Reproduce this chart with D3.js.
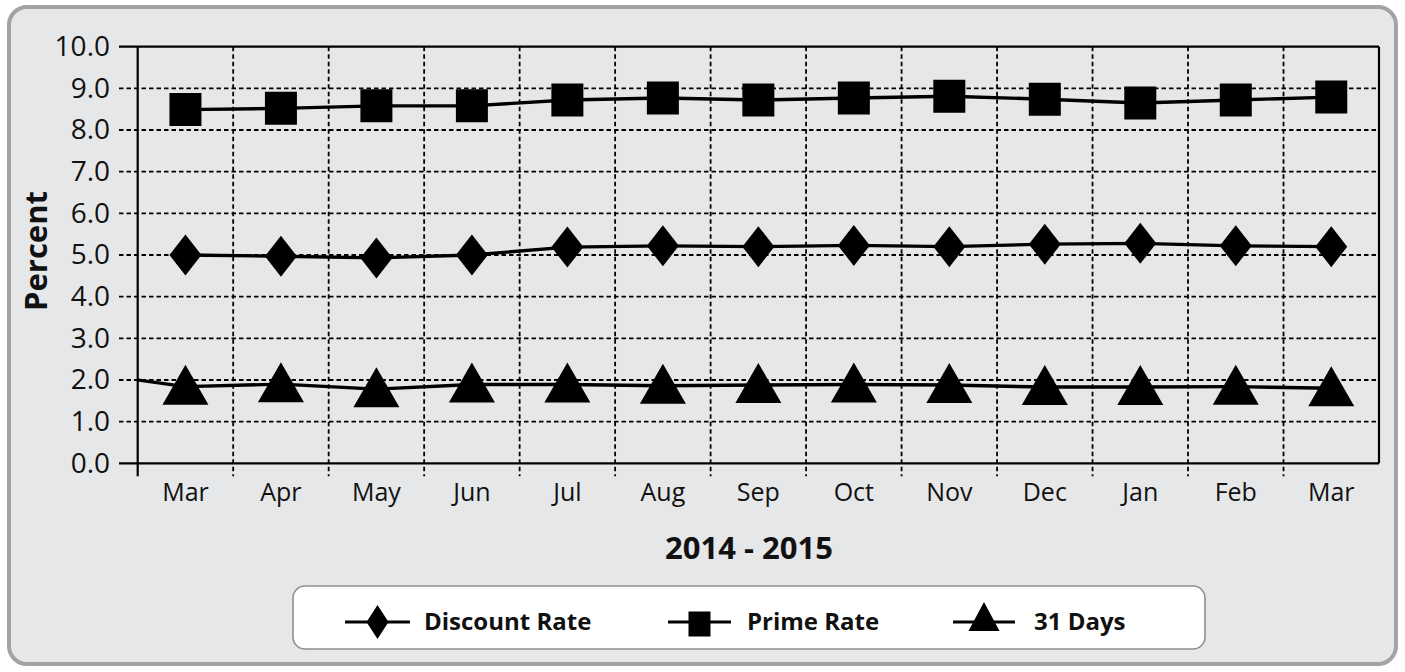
<!DOCTYPE html>
<html>
<head>
<meta charset="utf-8">
<script src="https://cdn.jsdelivr.net/npm/d3@7"></script>
<style>
  html, body { margin: 0; padding: 0; background: #ffffff; }
  svg { display: block; font-family: "Open Sans", "Noto Sans", sans-serif; }
</style>
</head>
<body>
<svg id="chart" width="1405" height="672"></svg>
<script>
// ---- data ----
const months = ["Mar","Apr","May","Jun","Jul","Aug","Sep","Oct","Nov","Dec","Jan","Feb","Mar"];
const discountRate = [5.00, 4.97, 4.93, 5.00, 5.19, 5.22, 5.20, 5.23, 5.20, 5.26, 5.28, 5.22, 5.20];
const primeRate    = [8.49, 8.52, 8.58, 8.58, 8.72, 8.77, 8.72, 8.77, 8.81, 8.74, 8.65, 8.72, 8.79];
const days31       = [1.84, 1.90, 1.78, 1.89, 1.89, 1.86, 1.88, 1.89, 1.88, 1.83, 1.83, 1.84, 1.80];
const days31Prev   = 2.16;   // previous month, only partly visible (clipped)
const yTicks = [0,1,2,3,4,5,6,7,8,9,10];
const seriesNames = ["Discount Rate","Prime Rate","31 Days"];
const xTitle = "2014 - 2015";
const yTitle = "Percent";

(function () {
// ---- layout ----
const pL = 137.7, pR = 1379, pT = 46.7, pB = 463.3;
const svg = d3.select("#chart");

// panel
svg.append("rect")
  .attr("x", 9).attr("y", 7).attr("width", 1387).attr("height", 657)
  .attr("rx", 18).attr("ry", 18)
  .attr("fill", "#e6e7e9").attr("stroke", "#a2a3a5").attr("stroke-width", 4);

const x = d3.scaleBand().domain(d3.range(months.length)).range([pL, pR]).padding(0);
const bw = x.bandwidth();
const cx = i => pL + bw * i + bw / 2;
const y = d3.scaleLinear().domain([0, 10]).range([pB, pT]);

// horizontal grid
const gridG = svg.append("g");
yTicks.forEach(t => {
  const solid = (t === 0 || t === 10);
  gridG.append("line")
    .attr("x1", 119).attr("x2", pR)
    .attr("y1", y(t)).attr("y2", y(t))
    .attr("stroke", "#000").attr("stroke-width", solid ? 2.2 : 1.8)
    .attr("stroke-dasharray", solid ? null : "4.5,3");
});
// vertical grid at band boundaries
d3.range(1, months.length).forEach(i => {
  gridG.append("line")
    .attr("x1", x(i)).attr("x2", x(i))
    .attr("y1", pT).attr("y2", pB + 13)
    .attr("stroke", "#000").attr("stroke-width", 1.8)
    .attr("stroke-dasharray", "4.5,3");
});
// left axis line & right border
gridG.append("line").attr("x1", pL).attr("x2", pL).attr("y1", pT).attr("y2", pB + 13)
  .attr("stroke", "#000").attr("stroke-width", 2.2);
gridG.append("line").attr("x1", pR).attr("x2", pR).attr("y1", pT).attr("y2", pB)
  .attr("stroke", "#000").attr("stroke-width", 2.2);

// y axis labels
const yAxis = d3.axisLeft(y).tickValues(yTicks).tickFormat(d3.format(".1f")).tickSize(0).tickPadding(9);
const yg = svg.append("g").attr("transform", `translate(119,0)`).call(yAxis);
yg.select(".domain").remove();
yg.selectAll("text").attr("font-size", 28).attr("fill", "#111")
  .attr("font-family", "'Open Sans', sans-serif");

// x axis labels
const xAxis = d3.axisBottom(x).tickFormat(i => months[i]).tickSize(0).tickPadding(20);
const xg = svg.append("g").attr("transform", `translate(0,${pB})`).call(xAxis);
xg.select(".domain").remove();
xg.selectAll("text").attr("font-size", 25).attr("fill", "#111")
  .attr("font-family", "'Open Sans', sans-serif");

// axis titles
svg.append("text").attr("x", 749).attr("y", 559).attr("text-anchor", "middle")
  .attr("font-size", 31).attr("font-weight", "bold").attr("fill", "#111").text(xTitle);
svg.append("text").attr("transform", "translate(47,251) rotate(-90)").attr("text-anchor", "middle")
  .attr("font-size", 31).attr("font-weight", "bold").attr("fill", "#111").text(yTitle);

// clip for lines
svg.append("clipPath").attr("id", "plotClip").append("rect")
  .attr("x", pL).attr("y", pT).attr("width", pR - pL).attr("height", pB - pT);

const line = d3.line().x(d => cx(d[0])).y(d => y(d[1]));
const lineG = svg.append("g").attr("clip-path", "url(#plotClip)");
function drawLine(vals, prev) {
  const pts = vals.map((v, i) => [i, v]);
  if (prev !== undefined) pts.unshift([-1, prev]);
  lineG.append("path").attr("d", line(pts)).attr("fill", "none")
    .attr("stroke", "#000").attr("stroke-width", 3.4).attr("stroke-linejoin", "round");
}
drawLine(discountRate);
drawLine(primeRate);
drawLine(days31, days31Prev);

// marker shapes
const diamondPath = (w, h) => `M0,${-h/2}L${w/2},0L0,${h/2}L${-w/2},0Z`;
const squarePath = (w, h) => `M${-w/2},${-h/2}H${w/2}V${h/2}H${-w/2}Z`;
const trianglePath = (w, up, down) => `M0,${-up}L${w/2},${down}L${-w/2},${down}Z`;

const mG = svg.append("g");
discountRate.forEach((v, i) => mG.append("path").attr("d", diamondPath(32, 41))
  .attr("transform", `translate(${cx(i)},${y(v)})`).attr("fill", "#000"));
primeRate.forEach((v, i) => mG.append("path").attr("d", squarePath(32, 33))
  .attr("transform", `translate(${cx(i)},${y(v)})`).attr("fill", "#000"));
days31.forEach((v, i) => mG.append("path").attr("d", trianglePath(46, 22, 18))
  .attr("transform", `translate(${cx(i)},${y(v)})`).attr("fill", "#000"));

// legend
const lg = svg.append("g");
lg.append("rect").attr("x", 293).attr("y", 586).attr("width", 912).attr("height", 63)
  .attr("rx", 12).attr("ry", 12).attr("fill", "#ffffff").attr("stroke", "#8e8e8e").attr("stroke-width", 1.6);
const legendItems = [
  { name: seriesNames[0], x1: 345, x2: 410, shape: diamondPath(22, 34), tx: 424, dy: 0 },
  { name: seriesNames[1], x1: 668, x2: 731, shape: squarePath(22, 25), tx: 747, dy: 2 },
  { name: seriesNames[2], x1: 953, x2: 1015, shape: trianglePath(31, 16, 13), tx: 1034, dy: -4 }
];
legendItems.forEach(it => {
  const ly = 622;
  lg.append("line").attr("x1", it.x1).attr("x2", it.x2).attr("y1", ly).attr("y2", ly)
    .attr("stroke", "#000").attr("stroke-width", 3);
  lg.append("path").attr("d", it.shape)
    .attr("transform", `translate(${(it.x1 + it.x2) / 2},${ly + it.dy})`).attr("fill", "#000");
  lg.append("text").attr("x", it.tx).attr("y", 630).attr("font-size", 24)
    .attr("font-weight", "bold").attr("fill", "#111").text(it.name);
});
})();
</script>
</body>
</html>
